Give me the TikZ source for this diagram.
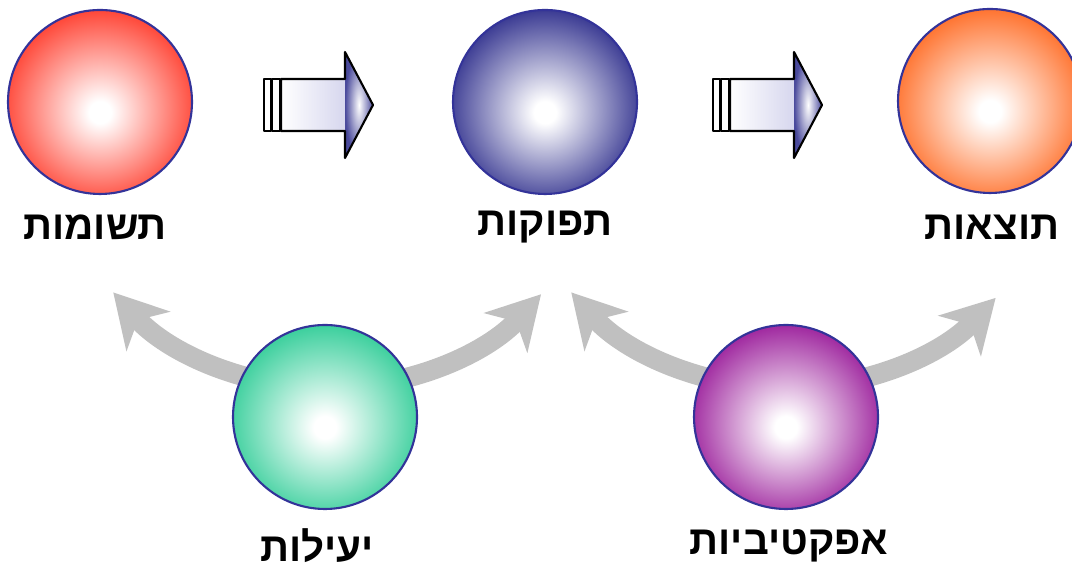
\documentclass[tikz,border=0pt]{standalone}
\usepackage{fontspec}
\newfontfamily\hebfont[Script=Hebrew]{Liberation Sans}
\TeXXeTstate=1
\usetikzlibrary{arrows.meta}

\definecolor{rim}{HTML}{333399}
\definecolor{inputred}{HTML}{FF3A2A}
\definecolor{outputblue}{HTML}{2E2E8C}
\definecolor{outcomeorange}{HTML}{FF6A22}
\definecolor{effgreen}{HTML}{2ECC96}
\definecolor{effpurple}{HTML}{991A99}
\definecolor{curvegray}{HTML}{C0C0C0}
\definecolor{headblue}{HTML}{4A4A9C}
\definecolor{bodylilac}{HTML}{D6D6EE}
\colorlet{ballcol}{red}

\pgfdeclareradialshading[ballcol]{glow}{\pgfpoint{0bp}{-3bp}}{%
  color(0bp)=(white); color(3bp)=(white); color(28bp)=(ballcol); color(50bp)=(ballcol)}

\tikzset{
  ball/.style={circle, draw=rim, line width=0.6pt, minimum size=1.84cm, inner sep=0pt,
    /utils/exec={\colorlet{ballcol}{#1}}, shade, shading=glow},
  lbl/.style={font=\hebfont\bfseries\fontsize{11.5}{13}\selectfont, inner sep=0pt},
  curved/.style={draw=curvegray, line width=0.2cm,
    -{Stealth[length=0.52cm, width=0.58cm, inset=0.15cm]}},
  stripe/.style={draw=black, line width=0.5pt, fill=white},
}

\begin{document}
\begin{tikzpicture}[line join=round]
  \clip (0,0) rectangle (10.72,5.67);

  % curved gray arrows (behind the lower balls)
  \coordinate (yeilBase) at (3.28,1.79);
  \coordinate (afkBase) at (7.86,1.79);
  \draw[curved] (yeilBase) arc[start angle=270, end angle=222, radius=2.89];
  \draw[curved] (yeilBase) arc[start angle=270, end angle=317.5, radius=2.89];
  \draw[curved] (afkBase) arc[start angle=270, end angle=222, radius=2.89];
  \draw[curved] (afkBase) arc[start angle=270, end angle=316.5, radius=2.89];

  % balls
  \node[ball=inputred] (inputs) at (1.00,4.65) {};
  \node[ball=outputblue] (outputs) at (5.45,4.65) {};
  \node[ball=outcomeorange] (outcomes) at (9.90,4.66) {};
  \node[ball=effgreen] (yeil) at (3.25,1.50) {};
  \node[ball=effpurple] (afk) at (7.86,1.50) {};

  % labels
  \node[lbl] (inputsLbl) at (0.95,3.40) {\beginR תשומות\endR};
  \node[lbl] (outputsLbl) at (5.45,3.40) {\beginR תפוקות\endR};
  \node[lbl] (outcomesLbl) at (9.92,3.40) {\beginR תוצאות\endR};
  \node[lbl] (yeilLbl) at (3.17,0.21) {\beginR יעילות\endR};
  \node[lbl] (afkLbl) at (7.89,0.21) {\beginR אפקטיביות\endR};

  % block arrows between the upper balls
  \foreach \dx in {0,4.49} {
    \begin{scope}[xshift=\dx cm]
      \draw[stripe] (2.64,4.36) rectangle (2.71,4.88);
      \draw[stripe] (2.72,4.36) rectangle (2.80,4.88);
      \shade[left color=white, right color=bodylilac]
        (2.81,4.36) rectangle (3.46,4.88);
      \shade[inner color=white, outer color=headblue]
        (3.45,5.15) -- (3.73,4.62) -- (3.45,4.09) -- cycle;
      \draw[line width=0.6pt]
        (2.81,4.36) -- (2.81,4.88) -- (3.45,4.88) -- (3.45,5.15) -- (3.73,4.62)
        -- (3.45,4.09) -- (3.45,4.36) -- cycle;
    \end{scope}
  }
\end{tikzpicture}
\end{document}
